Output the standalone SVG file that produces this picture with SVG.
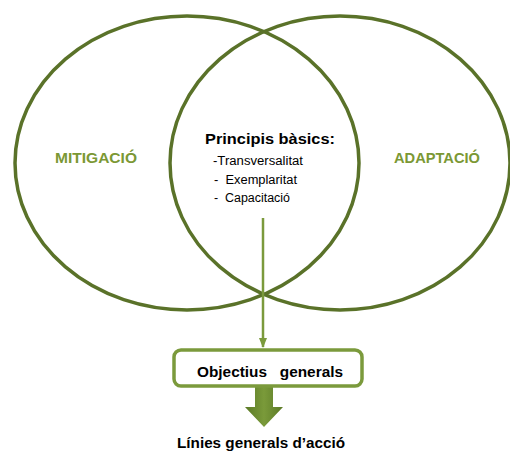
<svg xmlns="http://www.w3.org/2000/svg" width="510" height="452" viewBox="0 0 510 452">
<defs>
<style>
.circ{fill:none;stroke:#5a7229;stroke-width:3.5}
.lbl{font-family:"Liberation Sans",Arial,sans-serif;font-weight:bold;font-size:15px;fill:#7b9834}
.blk{font-family:"Liberation Sans",Arial,sans-serif;fill:#000;white-space:pre}
.b{font-weight:bold}
.conn{stroke:#7b9a3c;stroke-width:2.5;fill:none}
</style>
<marker id="ah" markerWidth="10" markerHeight="8" refX="9" refY="4" orient="auto" markerUnits="userSpaceOnUse">
<path d="M0,0 L10,4 L0,8 Z" fill="#7b9a3c"/>
</marker>
<linearGradient id="bg" x1="0" y1="0" x2="1" y2="0">
<stop offset="0" stop-color="#5b7a26"/>
<stop offset="0.5" stop-color="#7a9a3a"/>
<stop offset="1" stop-color="#5b7a26"/>
</linearGradient>
</defs>
<rect width="510" height="452" fill="#fff"/>
<g id="mitigacio">
<ellipse class="circ" cx="187" cy="163" rx="172" ry="147"/>
<text class="lbl" x="55" y="163" textLength="82" lengthAdjust="spacingAndGlyphs">MITIGACIÓ</text>
</g>
<g id="adaptacio">
<ellipse class="circ" cx="340" cy="163" rx="170" ry="147"/>
<text class="lbl" x="394" y="163" textLength="86" lengthAdjust="spacingAndGlyphs">ADAPTACIÓ</text>
</g>
<g id="principis">
<text class="blk b" x="205" y="144" font-size="14" textLength="130" lengthAdjust="spacingAndGlyphs">Principis bàsics:</text>
<text class="blk" x="213" y="165" font-size="12" textLength="90" lengthAdjust="spacingAndGlyphs">-Transversalitat</text>
<text class="blk" x="214" y="184" font-size="12" textLength="83" lengthAdjust="spacingAndGlyphs">-  Exemplaritat</text>
<text class="blk" x="214" y="202" font-size="12" textLength="76" lengthAdjust="spacingAndGlyphs">-  Capacitació</text>
</g>
<g id="connectors">
<line class="conn" x1="263" y1="218" x2="263" y2="347" marker-end="url(#ah)"/>
<path d="M255,386 L273,386 L273,407 L283,407 L264,427 L245,407 L255,407 Z" fill="url(#bg)"/>
</g>
<g id="objectius">
<rect x="174" y="350" width="188" height="36" rx="7" fill="#fff" stroke="#7b9a3c" stroke-width="3.5"/>
<text class="blk b" x="197" y="377" font-size="15" textLength="146" lengthAdjust="spacingAndGlyphs">Objectius   generals</text>
</g>
<g id="linies">
<text class="blk b" x="177" y="448" font-size="15" textLength="168" lengthAdjust="spacingAndGlyphs">Línies generals d’acció</text>
</g>
</svg>
